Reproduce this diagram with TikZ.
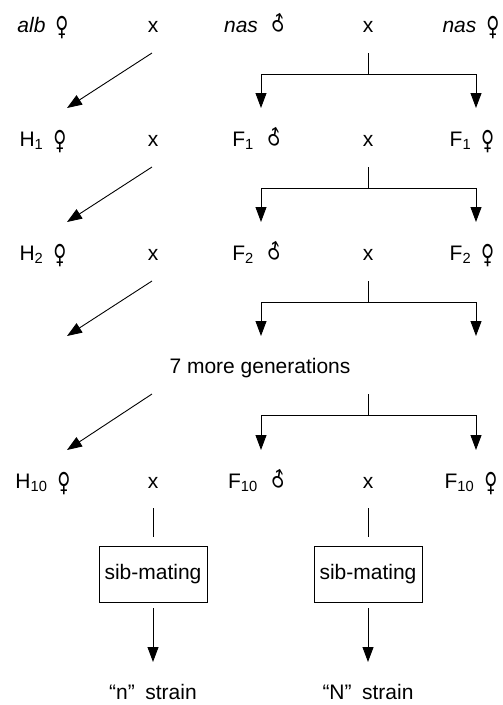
\documentclass[tikz,border=0pt]{standalone}
\usepackage{fontspec}
\setmainfont{Liberation Sans}
\newfontfamily\simbolos{DejaVu Sans}
\usetikzlibrary{arrows.meta,calc}
\newcommand{\femea}{\hspace{0.2em}\raisebox{-0.15em}{\scalebox{0.85}[1.25]{\simbolos ♀}}}
\newcommand{\macho}{\hspace{0.2em}\raisebox{-0.1em}{\rotatebox{30}{\scalebox{0.85}[1.05]{\simbolos ♂}}}}
\tikzset{
  texto/.style={inner sep=0pt, anchor=base, font=\fontsize{21}{25}\selectfont},
  caixa/.style={draw, line width=0.8pt, minimum width=108pt, minimum height=56pt,
                inner sep=0pt, font=\fontsize{21}{25}\selectfont},
  seta/.style={-{Triangle[length=15pt,width=11pt]}, line width=0.9pt},
  linha/.style={line width=0.9pt},
}

\begin{document}
\begin{tikzpicture}[x=1pt, y=-1pt]
  \useasboundingbox (0,0) rectangle (503,705);
  % parentais
  \node[texto] (p0) at (43,32) {\textit{alb} \femea};
  \node[texto] (xa0) at (153,32) {x};
  \node[texto] (m0) at (257,32) {\textit{nas} \macho};
  \node[texto] (xb0) at (368,32) {x};
  \node[texto] (f0) at (471,32) {\textit{nas} \femea};
  % geracao 1
  \node[texto] (h1) at (43,146) {H\textsubscript{1} \femea};
  \node[texto] (xa1) at (153,146) {x};
  \node[texto] (m1) at (259,146) {F\textsubscript{1} \macho};
  \node[texto] (xb1) at (368,146) {x};
  \node[texto] (f1) at (472,146) {F\textsubscript{1} \femea};
  % geracao 2
  \node[texto] (h2) at (43,260) {H\textsubscript{2} \femea};
  \node[texto] (xa2) at (153,260) {x};
  \node[texto] (m2) at (259,260) {F\textsubscript{2} \macho};
  \node[texto] (xb2) at (368,260) {x};
  \node[texto] (f2) at (472,260) {F\textsubscript{2} \femea};
  \node[texto] (ger) at (260,373) {7 more generations};
  % geracao 10
  \node[texto] (h3) at (43,488) {H\textsubscript{10} \femea};
  \node[texto] (xa3) at (153,488) {x};
  \node[texto] (m3) at (259,488) {F\textsubscript{10} \macho};
  \node[texto] (xb3) at (368,488) {x};
  \node[texto] (f3) at (471,488) {F\textsubscript{10} \femea};
  % cruzamentos
  \draw[seta] ($(xa0.base)+(-1,21)$) -- ($(h1.base)+(24,-38)$);
  \draw[linha] ($(xb0.base)+(0,21)$) -- ++(0,21) coordinate (b0);
  \draw[seta] (b0) -| ($(m1.base)+(2,-38)$);
  \draw[seta] (b0) -| ($(f1.base)+(4,-38)$);
  \draw[seta] ($(xa1.base)+(-1,21)$) -- ($(h2.base)+(24,-38)$);
  \draw[linha] ($(xb1.base)+(0,21)$) -- ++(0,21) coordinate (b1);
  \draw[seta] (b1) -| ($(m2.base)+(2,-38)$);
  \draw[seta] (b1) -| ($(f2.base)+(4,-38)$);
  \draw[seta] ($(xa2.base)+(-1,21)$) -- ($(h2.base)+(24,76)$);
  \draw[linha] ($(xb2.base)+(0,21)$) -- ++(0,21) coordinate (b2);
  \draw[seta] (b2) -| ($(m2.base)+(2,76)$);
  \draw[seta] (b2) -| ($(f2.base)+(4,76)$);
  \draw[seta] ($(xa2.base |- ger.base)+(-1,21)$) -- ($(h3.base)+(24,-38)$);
  \draw[linha] ($(xb2.base |- ger.base)+(0,21)$) -- ++(0,21) coordinate (b3);
  \draw[seta] (b3) -| ($(m3.base)+(2,-38)$);
  \draw[seta] (b3) -| ($(f3.base)+(5,-38)$);
  % sib-mating
  \node[caixa] (sa) at (153,574) {sib-mating};
  \node[caixa] (sb) at (368,574) {sib-mating};
  \node[texto] (cn) at (153,699) {“n”\hspace{0.5em}strain};
  \node[texto] (cm) at (368,699) {“N”\hspace{0.5em}strain};
  \draw[linha] ($(xa3.base)+(0,20)$) -- ($(sa.north)+(0,-9)$);
  \draw[linha] ($(xb3.base)+(0,20)$) -- ($(sb.north)+(0,-9)$);
  \draw[seta] ($(sa.south)+(0,6)$) -- ($(cn.base)+(0,-37)$);
  \draw[seta] ($(sb.south)+(0,6)$) -- ($(cm.base)+(0,-37)$);
\end{tikzpicture}
\end{document}
